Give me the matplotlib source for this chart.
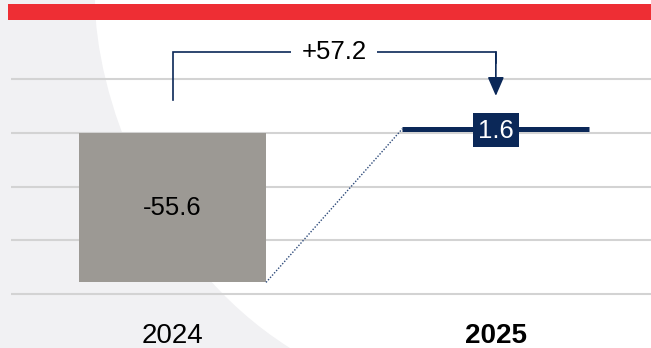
import matplotlib
matplotlib.use("Agg")
import matplotlib.pyplot as plt
from matplotlib.patches import Rectangle, PathPatch
from matplotlib.path import Path

plt.rcParams['font.family'] = ['Liberation Sans', 'DejaVu Sans']

years = ['2024', '2025']
start_value = -55.6   # 2024 result, drawn as a bar from zero
end_value = 1.6       # 2025 result, drawn as a level line
change = 57.2         # bridge between the two years
grid_values = [-60, -40, -20, 0, 20]

navy = '#0b2858'
bar_grey = '#9c9994'
red = '#ee2e34'

W, H = 651, 348
fig = plt.figure(figsize=(W / 100, H / 100), dpi=100)
fig.patch.set_facecolor('white')

# soft grey backdrop with a curved edge on the left
def px(x, y):
    return (x / W, 1 - y / H)

verts = [px(95, 0), px(95, 90), px(150, 260), px(290, 348),
         px(0, 348), px(0, 0), px(95, 0)]
codes = [Path.MOVETO, Path.CURVE4, Path.CURVE4, Path.CURVE4,
         Path.LINETO, Path.LINETO, Path.CLOSEPOLY]
fig.patches.append(PathPatch(Path(verts, codes), transform=fig.transFigure,
                             facecolor='#f1f1f3', edgecolor='none', zorder=-2))

# red banner across the top
fig.patches.append(Rectangle(px(8, 20), (W - 8) / W, 16 / H,
                             transform=fig.transFigure, facecolor=red,
                             edgecolor='none', zorder=1))

ax = fig.add_axes([11 / W, 48 / H, 640 / W, 278 / H])
ax.set_facecolor('none')
ax.set_xlim(-0.5, 1.48)
ax.set_ylim(-62.14, 41.3)

for g in grid_values:
    ax.axhline(g, color='#d3d3d3', lw=1.5, zorder=1)

width = 0.578
x0, x1 = 0, 1

# 2024 bar
ax.bar(x0, start_value, width=width, bottom=0, color=bar_grey, zorder=2)
ax.text(x0, start_value / 2, f'{start_value:.1f}', ha='center', va='center',
        fontsize=18.5, color='black', zorder=5)

# connector from the 2024 bottom to the 2025 level
ax.plot([x0 + width / 2, x1 - width / 2], [start_value, end_value],
        ls=(0, (1, 1.2)), lw=1, color='#2d4a7a', zorder=3)

# 2025 level line with boxed label
ax.plot([x1 - width / 2, x1 + width / 2], [end_value, end_value],
        color=navy, lw=3.6, solid_capstyle='butt', zorder=3)
ax.add_patch(Rectangle((x1 - 0.071, end_value - 6.9), 0.142, 12.6,
                       facecolor=navy, edgecolor='none', zorder=4))
ax.text(x1, end_value - 0.8, f'{end_value:.1f}', ha='center', va='center',
        fontsize=18.5, color='white', zorder=5)

# change bracket between the years
top = 30.1
ax.plot([x0, x0, x1, x1], [12.3, top, top, top - 4], color=navy, lw=1.2,
        solid_joinstyle='miter', zorder=3)
ax.annotate('', xy=(x1, 13.8), xytext=(x1, top),
            arrowprops=dict(arrowstyle='-|>,head_length=0.575,head_width=0.25',
                            mutation_scale=20, color=navy, lw=1.2,
                            shrinkA=0, shrinkB=0), zorder=3)
ax.text((x0 + x1) / 2, top, f'+{change:.1f}', ha='center', va='center',
        fontsize=18.5, color='black', zorder=5,
        bbox=dict(boxstyle='square,pad=0.4', facecolor='white',
                  edgecolor='none'))

# year labels
tx = ax.get_xaxis_transform()
ax.text(x0, -0.1547, years[0], transform=tx, ha='center', va='baseline',
        fontsize=20, color='black')
ax.text(x1, -0.1547, years[1], transform=tx, ha='center', va='baseline',
        fontsize=20, fontweight='bold', color='black')

ax.set_xticks([])
ax.set_yticks([])
for s in ax.spines.values():
    s.set_visible(False)

fig.savefig('out.png', dpi=100, facecolor=fig.get_facecolor())
